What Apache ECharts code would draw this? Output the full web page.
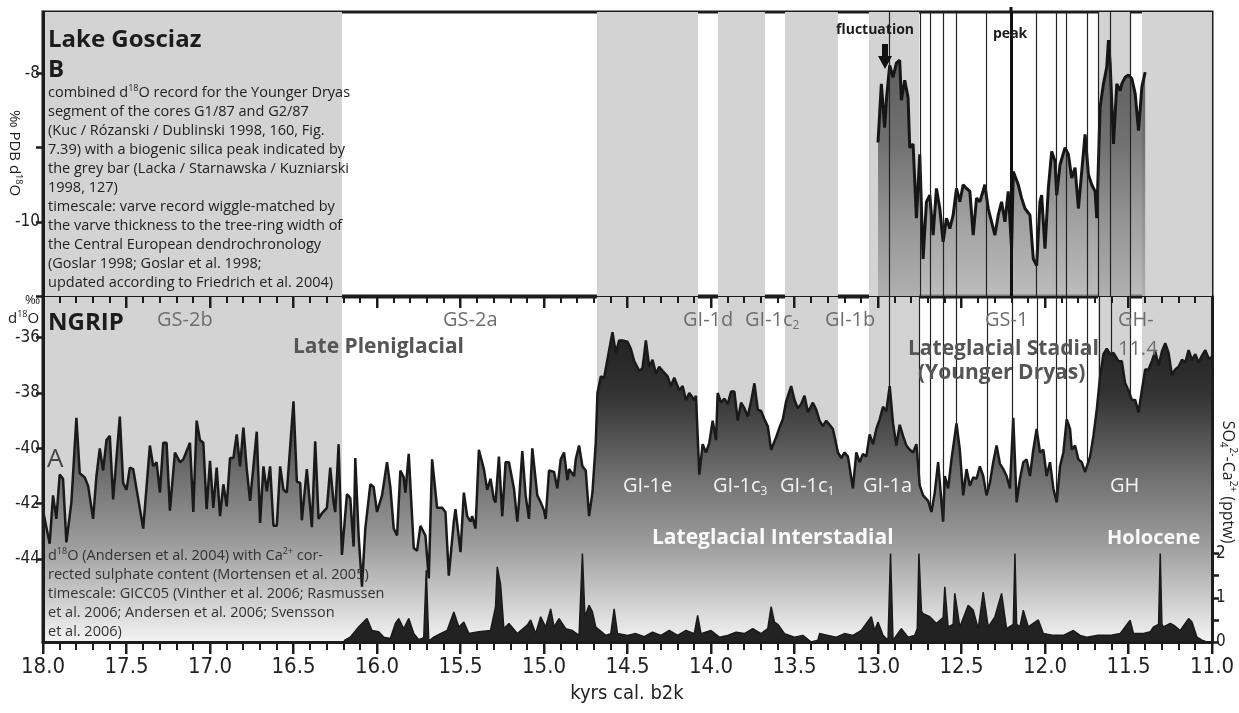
<!DOCTYPE html>
<html lang="en" style="height: 100%">
<head>
  <meta charset="utf-8">
</head>
<body style="height: 100%; margin: 0; background: #fff">
  <div id="container" style="width: 1239px; height: 713px"></div>
  <script type="text/javascript" src="https://cdn.jsdelivr.net/npm/echarts@6/dist/echarts.min.js"></script>
  <script type="text/javascript">
    // NGRIP d18O (age in kyrs b2k, permil)
    var ngripAge = [18.00,17.96,17.94,17.92,17.90,17.88,17.86,17.83,17.80,17.78,17.75,17.73,17.70,17.68,17.66,17.64,17.62,17.60,17.58,17.54,
      17.52,17.50,17.48,17.46,17.40,17.36,17.34,17.32,17.30,17.28,17.26,17.24,17.21,17.18,17.16,17.12,17.10,17.08,17.06,17.04,
      17.02,17.00,16.98,16.96,16.94,16.92,16.90,16.88,16.86,16.84,16.82,16.80,16.78,16.76,16.72,16.70,16.68,16.66,16.64,16.62,
      16.60,16.58,16.56,16.54,16.50,16.48,16.46,16.45,16.42,16.39,16.37,16.35,16.33,16.30,16.28,16.26,16.25,16.23,16.21,16.18,
      16.16,16.14,16.13,16.11,16.09,16.07,16.04,16.02,16.00,15.97,15.94,15.92,15.90,15.88,15.86,15.84,15.83,15.81,15.78,15.76,
      15.74,15.71,15.69,15.67,15.64,15.61,15.59,15.57,15.54,15.53,15.50,15.48,15.46,15.44,15.43,15.41,15.39,15.36,15.34,15.32,
      15.30,15.29,15.27,15.25,15.23,15.21,15.18,15.16,15.15,15.13,15.11,15.09,15.07,15.04,15.02,15.00,14.99,14.97,14.94,14.92,
      14.90,14.88,14.86,14.85,14.82,14.81,14.79,14.77,14.75,14.73,14.71,14.69,14.68,14.66,14.64,14.61,14.59,14.57,14.55,14.53,
      14.50,14.48,14.46,14.43,14.41,14.39,14.37,14.35,14.33,14.31,14.29,14.26,14.24,14.22,14.19,14.17,14.15,14.13,14.10,14.09,
      14.07,14.05,14.03,14.01,13.99,13.97,13.96,13.94,13.92,13.90,13.88,13.86,13.84,13.82,13.80,13.78,13.76,13.74,13.72,13.70,
      13.68,13.66,13.64,13.61,13.59,13.57,13.55,13.52,13.50,13.48,13.46,13.44,13.42,13.39,13.37,13.35,13.33,13.31,13.29,13.27,
      13.24,13.22,13.20,13.18,13.15,13.13,13.11,13.09,13.07,13.05,13.03,13.01,12.99,12.97,12.95,12.93,12.91,12.89,12.87,12.85,
      12.83,12.81,12.79,12.77,12.75,12.73,12.70,12.68,12.66,12.64,12.61,12.60,12.58,12.56,12.53,12.51,12.49,12.47,12.45,12.43,
      12.41,12.39,12.37,12.35,12.33,12.31,12.29,12.27,12.25,12.23,12.21,12.19,12.17,12.15,12.13,12.11,12.09,12.07,12.05,12.03,
      12.01,11.99,11.97,11.95,11.93,11.91,11.89,11.87,11.85,11.84,11.82,11.80,11.78,11.76,11.73,11.71,11.69,11.67,11.65,11.63,
      11.61,11.59,11.56,11.54,11.52,11.50,11.48,11.46,11.44,11.42,11.40,11.38,11.36,11.34,11.32,11.30,11.28,11.26,11.24,11.22,
      11.20,11.18,11.16,11.14,11.12,11.10,11.08,11.06,11.04,11.02,11.00];
    var ngripD18O = [-42.25,-43.45,-41.7,-42.55,-40.95,-41.1,-43.4,-41.95,-38.9,-40.9,-41.05,-41.35,-42.55,-41.0,-40.0,-40.8,-39.7,-39.55,-41.85,-38.85,
      -41.25,-41.5,-40.7,-40.75,-42.9,-39.9,-40.65,-40.5,-41.6,-39.8,-39.8,-42.25,-40.15,-40.5,-40.4,-39.8,-42.3,-39.0,-39.7,-39.8,
      -42.2,-40.45,-42.15,-40.7,-42.45,-41.3,-42.1,-40.35,-40.35,-39.5,-40.65,-39.25,-40.75,-41.9,-39.4,-42.7,-40.65,-41.55,-40.65,-42.8,
      -42.8,-40.65,-41.5,-41.6,-38.3,-41.2,-41.25,-42.6,-40.75,-42.85,-39.75,-42.55,-42.35,-42.15,-40.7,-41.95,-42.3,-39.85,-43.85,-41.65,
      -41.8,-43.55,-40.35,-43.15,-45.0,-42.9,-41.3,-41.4,-42.3,-41.7,-40.5,-41.4,-42.9,-43.15,-40.8,-41.05,-41.6,-40.2,-43.6,-43.7,
      -42.8,-43.15,-44.7,-40.4,-42.15,-42.15,-42.3,-44.6,-42.65,-42.2,-43.75,-41.6,-42.45,-42.65,-42.45,-42.9,-40.05,-40.75,-41.5,-41.1,
      -41.85,-41.95,-40.3,-42.45,-40.5,-40.5,-41.45,-42.65,-41.95,-40.1,-41.7,-42.55,-40.0,-41.7,-41.95,-42.25,-42.55,-40.8,-40.85,-41.45,
      -40.4,-40.15,-41.15,-40.75,-41.0,-40.4,-39.9,-40.65,-40.8,-42.45,-41.6,-39.8,-38.0,-37.4,-37.45,-36.45,-35.8,-36.55,-36.1,-36.1,
      -36.15,-36.4,-36.85,-37.2,-37.1,-36.1,-37.05,-36.8,-37.3,-37.05,-37.2,-37.4,-37.75,-37.45,-37.9,-37.75,-38.25,-38.0,-38.25,-38.1,
      -40.95,-39.85,-40.15,-39.8,-39.0,-39.7,-38.0,-38.35,-38.2,-38.4,-37.95,-37.95,-39.0,-38.35,-38.55,-38.85,-38.3,-37.65,-38.6,-38.65,
      -38.95,-39.2,-40.05,-39.6,-39.25,-38.95,-38.3,-37.75,-38.25,-38.55,-38.4,-38.1,-38.7,-38.35,-38.6,-39.0,-39.2,-39.0,-39.15,-39.3,
      -40.15,-40.35,-40.15,-40.3,-41.45,-40.15,-40.5,-40.2,-40.3,-39.5,-39.85,-39.3,-38.95,-38.5,-38.65,-37.75,-39.1,-39.9,-39.15,-39.55,
      -39.9,-40.05,-40.15,-39.85,-41.35,-41.7,-41.9,-42.3,-41.6,-40.5,-42.65,-41.0,-41.45,-40.4,-39.1,-40.05,-41.7,-40.75,-41.35,-41.05,
      -41.1,-40.65,-41.0,-41.7,-41.25,-40.5,-39.9,-40.55,-40.75,-41.0,-41.45,-38.9,-41.95,-41.1,-40.5,-40.4,-41.0,-40.05,-39.3,-40.15,
      -40.05,-41.0,-40.5,-41.45,-41.95,-40.65,-40.15,-38.95,-39.3,-40.05,-39.9,-40.4,-40.5,-40.85,-40.3,-39.55,-38.6,-37.4,-36.6,-36.4,
      -36.6,-36.55,-36.85,-36.85,-37.65,-37.9,-38.25,-38.25,-38.7,-37.9,-37.15,-37.15,-36.85,-36.5,-37.0,-36.5,-36.2,-36.55,-37.35,-37.15,
      -37.05,-36.8,-36.9,-36.45,-36.8,-36.6,-36.9,-36.65,-36.45,-36.75,-36.7];

    // NGRIP Ca-corrected sulphate (pptw)
    var sulphateAge = [16.20,16.19,16.16,16.11,16.06,16.03,15.99,15.96,15.92,15.89,15.87,15.84,15.81,15.78,15.75,15.72,15.705,15.69,15.66,15.62,
      15.58,15.54,15.51,15.48,15.45,15.39,15.32,15.29,15.28,15.26,15.24,15.21,15.16,15.10,15.08,15.05,15.02,14.99,14.96,14.94,
      14.91,14.87,14.83,14.79,14.77,14.755,14.73,14.71,14.69,14.63,14.60,14.58,14.56,14.50,14.45,14.40,14.35,14.30,14.25,14.20,
      14.15,14.10,14.08,14.06,14.00,13.95,13.90,13.85,13.80,13.75,13.70,13.66,13.64,13.62,13.60,13.56,13.50,13.45,13.40,13.36,
      13.35,13.30,13.25,13.20,13.15,13.10,13.04,13.02,13.00,12.97,12.94,12.925,12.91,12.86,12.82,12.78,12.765,12.755,12.74,12.73,
      12.69,12.65,12.61,12.60,12.58,12.55,12.54,12.51,12.46,12.43,12.40,12.37,12.34,12.30,12.26,12.23,12.19,12.18,12.17,12.15,
      12.13,12.10,12.04,12.01,11.95,11.89,11.83,11.79,11.75,11.69,11.61,11.55,11.49,11.47,11.41,11.37,11.35,11.32,11.31,11.30,
      11.29,11.25,11.23,11.19,11.14,11.12,11.09,11.06,11.03];
    var sulphateVal = [0.0,0.05,0.11,0.34,0.53,0.26,0.23,0.11,0.08,0.42,0.53,0.30,0.53,0.19,0.05,0.10,1.62,0.02,0.11,0.19,
      0.26,0.68,0.34,0.45,0.19,0.23,0.26,0.80,1.70,1.30,0.30,0.42,0.19,0.38,0.50,0.19,0.57,0.34,0.75,0.34,
      0.53,0.30,0.26,0.15,2.00,0.57,0.83,0.68,0.34,0.15,0.19,0.75,0.19,0.15,0.19,0.12,0.22,0.15,0.26,0.15,
      0.26,0.19,0.60,0.19,0.26,0.11,0.15,0.22,0.19,0.30,0.19,0.30,0.80,0.45,0.40,0.19,0.11,0.15,0.00,0.04,
      0.19,0.15,0.11,0.19,0.15,0.26,0.57,0.26,0.45,0.15,0.04,2.00,0.04,0.30,0.11,0.15,0.30,2.00,0.70,0.64,
      0.57,0.42,0.55,1.25,0.34,0.40,1.10,0.34,0.83,0.72,0.30,1.13,0.34,0.57,1.10,0.30,0.40,2.00,0.40,0.34,
      0.72,0.34,0.50,0.19,0.15,0.15,0.26,0.15,0.11,0.15,0.15,0.19,0.49,0.19,0.19,0.23,0.34,0.40,2.00,0.40,
      0.34,0.42,0.38,0.26,0.53,0.45,0.11,0.04,0.00];

    // Lake Gosciaz combined d18O (permil PDB)
    var gosciazAge = [13.00,12.98,12.96,12.95,12.93,12.91,12.89,12.87,12.86,12.84,12.82,12.81,12.79,12.77,12.75,12.73,12.71,12.69,12.67,12.65,
      12.63,12.61,12.59,12.57,12.55,12.53,12.51,12.49,12.47,12.45,12.43,12.41,12.39,12.36,12.34,12.32,12.30,12.28,12.26,12.24,
      12.22,12.20,12.19,12.16,12.14,12.12,12.09,12.07,12.05,12.03,12.02,12.00,11.98,11.96,11.94,11.93,11.91,11.88,11.86,11.84,
      11.82,11.80,11.78,11.76,11.74,11.72,11.70,11.69,11.67,11.65,11.63,11.62,11.61,11.59,11.57,11.55,11.54,11.52,11.50,11.48,
      11.46,11.44,11.42,11.40];
    var gosciazD18O = [-8.93,-8.14,-8.73,-8.36,-7.89,-8.05,-7.86,-7.82,-8.36,-8.09,-8.32,-9.0,-8.95,-9.95,-9.09,-10.5,-9.73,-9.64,-10.18,-9.55,
      -9.82,-10.27,-9.95,-10.09,-9.91,-9.55,-9.73,-9.5,-9.55,-9.59,-10.18,-9.68,-9.73,-9.5,-9.82,-10.0,-10.18,-9.91,-9.73,-10.0,
      -9.59,-10.36,-9.32,-9.5,-9.68,-9.82,-9.91,-10.5,-10.59,-9.73,-9.64,-10.36,-9.55,-9.05,-9.18,-9.64,-9.23,-9.0,-9.09,-9.41,
      -9.27,-9.82,-9.32,-8.82,-9.36,-9.5,-9.59,-9.95,-8.45,-8.14,-7.91,-7.55,-7.86,-8.95,-8.14,-8.23,-8.14,-8.05,-8.02,-8.07,
      -8.27,-8.77,-8.18,-7.98];

    // grey bars (stadials / biogenic silica) as [from, to] in kyrs b2k
    var greyBands = [[18.0, 16.21], [14.683, 14.078], [13.958, 13.677], [13.557, 13.24], [13.054, 12.754], [11.683, 11.491], [11.419, 11.0]];
    // varve-marker lines and the silica peak
    var markerLines = [12.934, 12.754, 12.689, 12.611, 12.533, 12.347, 12.048, 11.934, 11.874, 11.749, 11.677, 11.605, 11.491];
    var peakLine = 12.198;

    var topYLabels = [-10, -8];
    var ngripYLabels = [-44, -42, -40, -38, -36];
    var sulphateLabels = [0, 1, 2];

    var NGRIP_MIN = -47, NGRIP_MAX = -34.53;

    // age ticks: labelled every 0.5 kyr, small ticks every 0.1 kyr
    var majorTicks = [], minorTicks = [];
    for (var k = 110; k <= 180; k++) {
      if (k % 5 === 0) majorTicks.push(k / 10); else minorTicks.push(k / 10);
    }

    function pairs(xs, ys) {
      return xs.map(function (x, i) { return [x, ys[i]]; });
    }
    // value of the NGRIP curve at a given age, so the marker lines stop at it
    function ngripAt(age) {
      for (var i = 0; i < ngripAge.length - 1; i++) {
        var a0 = ngripAge[i], a1 = ngripAge[i + 1];
        if (age <= a0 && age >= a1) {
          var t = (a0 - age) / (a0 - a1);
          return ngripD18O[i] + t * (ngripD18O[i + 1] - ngripD18O[i]);
        }
      }
      return NGRIP_MIN;
    }

    var dom = document.getElementById('container');
    var myChart = echarts.init(dom, null, { renderer: 'canvas' });

    var INK = '#1c1c1c';
    var COND = '"Liberation Sans Narrow", "DejaVu Sans Condensed", "Open Sans", sans-serif';
    var TXT = '"Open Sans", "Noto Sans", sans-serif';

    var bandAreas = greyBands.map(function (b) {
      return [{ xAxis: b[0] }, { xAxis: b[1] }];
    });
    var topLinesMark = markerLines.map(function (v) {
      return { xAxis: v, lineStyle: { width: 1.2, color: '#222', type: 'solid' } };
    });
    topLinesMark.push({ xAxis: peakLine, lineStyle: { width: 3, color: '#111', type: 'solid' } });
    var bottomLinesMark = markerLines.concat([peakLine]).map(function (v) {
      return [
        { coord: [v, ngripAt(v)], lineStyle: { width: 1.2, color: '#222', type: 'solid' } },
        { coord: [v, NGRIP_MAX] }
      ];
    });

    function text(x, y, str, size, color, weight, rich) {
      return {
        type: 'text', x: x, y: y, z: 100, silent: true,
        style: {
          text: str, fill: color, fontSize: size, fontFamily: TXT,
          fontWeight: weight || 'normal', verticalAlign: 'middle', textAlign: 'left',
          rich: rich
        }
      };
    }

    function sub(size, color, weight) {
      var small = Math.round(size * 0.62);
      return {
        n: { fontSize: size, fill: color, fontFamily: TXT, fontWeight: weight || 'normal', lineHeight: size + 4 },
        b: { fontSize: small, fill: color, fontFamily: TXT, fontWeight: weight || 'normal', lineHeight: size, verticalAlign: 'bottom' },
        p: { fontSize: small, fill: color, fontFamily: TXT, fontWeight: weight || 'normal', lineHeight: size - 2, verticalAlign: 'top' }
      };
    }

    var topLines = [
      '{n|combined d}{p|18}{n|O record for the Younger Dryas}',
      '{n|segment of the cores G1/87 and G2/87}',
      '{n|(Kuc / Rózanski / Dublinski 1998, 160, Fig.}',
      '{n|7.39) with a biogenic silica peak indicated by}',
      '{n|the grey bar (Lacka / Starnawska / Kuzniarski}',
      '{n|1998, 127)}',
      '{n|timescale: varve record wiggle-matched by}',
      '{n|the varve thickness to the tree-ring width of}',
      '{n|the Central European dendrochronology}',
      '{n|(Goslar 1998; Goslar et al. 1998;}',
      '{n|updated according to Friedrich et al. 2004)}'
    ];
    var bottomLines = [
      '{n|d}{p|18}{n|O (Andersen et al. 2004) with Ca}{p|2+}{n| cor-}',
      '{n|rected sulphate content (Mortensen et al. 2005)}',
      '{n|timescale: GICC05 (Vinther et al. 2006; Rasmussen}',
      '{n|et al. 2006; Andersen et al. 2006; Svensson}',
      '{n|et al. 2006)}'
    ];

    var GRID_LEFT = 43, GRID_RIGHT = 27, LOW_TOP = 297, LOW_H = 345, CHART_W = 1239;

    var graphics = [];
    graphics.push(text(48, 40, 'Lake Gosciaz', 24, INK, 'bold'));
    graphics.push(text(48, 70, 'B', 24, INK, 'bold'));
    topLines.forEach(function (l, i) {
      graphics.push(text(48, 93 + i * 19, l, 14.5, '#222', 'normal', sub(14.5, '#222')));
    });
    graphics.push(text(836, 30, 'fluctuation', 14, INK, 'bold'));
    graphics.push(text(993, 34, 'peak', 14, INK, 'bold'));
    graphics.push({ type: 'rect', z: 100, silent: true, shape: { x: 882, y: 44, width: 6, height: 13 }, style: { fill: '#111' } });
    graphics.push({ type: 'polygon', z: 100, silent: true, shape: { points: [[878, 56], [892, 56], [885, 69]] }, style: { fill: '#111' } });
    graphics.push({ type: 'rect', z: 100, silent: true, shape: { x: 1009.5, y: 7, width: 3, height: 6 }, style: { fill: '#111' } });

    // axis names
    graphics.push({
      type: 'text', x: 14, y: 153, rotation: -Math.PI / 2, z: 100, silent: true,
      style: { text: '{n|‰ PDB d}{p|18}{n|O}', rich: sub(15, '#222'), textAlign: 'center', verticalAlign: 'middle' }
    });
    graphics.push(text(25, 300, '‰', 13, '#222'));
    graphics.push(text(8, 319, '{n|d}{p|18}{n|O}', 15, '#222', 'normal', sub(15, '#222')));
    graphics.push({
      type: 'text', x: 1228, y: 482, rotation: -Math.PI / 2, z: 100, silent: true,
      style: { text: '{n|SO}{b|4}{p|2-}{n|-Ca}{p|2+}{n| (pptw)}', rich: sub(16, '#222'), textAlign: 'center', verticalAlign: 'middle' }
    });
    graphics.push({
      type: 'text', x: 627, y: 694, z: 100, silent: true,
      style: { text: 'kyrs cal. b2k', fontSize: 20, fontFamily: COND, fill: '#222', textAlign: 'center', verticalAlign: 'middle' }
    });

    // NGRIP panel annotations
    var G = '#6e6e6e';
    var W = '#f4f4f4';
    graphics.push(text(48, 323, 'NGRIP', 24, INK, 'bold'));
    graphics.push(text(157, 320, 'GS-2b', 20, G));
    graphics.push(text(443, 320, 'GS-2a', 20, G));
    graphics.push(text(683, 320, 'GI-1d', 20, G));
    graphics.push(text(745, 320, '{n|GI-1c}{b|2}', 20, G, 'normal', sub(20, G)));
    graphics.push(text(825, 320, 'GI-1b', 20, G));
    graphics.push(text(985, 320, 'GS-1', 20, G));
    graphics.push(text(1118, 320, 'GH-', 20, G));
    graphics.push(text(1118, 349, '11.4', 20, G));
    graphics.push(text(293, 347, 'Late Pleniglacial', 21, '#555', 'bold'));
    graphics.push(text(908, 349, 'Lateglacial Stadial', 21, '#555', 'bold'));
    graphics.push(text(918, 373, '(Younger Dryas)', 21, '#555', 'bold'));
    graphics.push(text(47, 460, 'A', 26, '#444'));
    graphics.push(text(623, 486, 'GI-1e', 20, W));
    graphics.push(text(713, 486, '{n|GI-1c}{b|3}', 20, W, 'normal', sub(20, W)));
    graphics.push(text(780, 486, '{n|GI-1c}{b|1}', 20, W, 'normal', sub(20, W)));
    graphics.push(text(863, 486, 'GI-1a', 20, W));
    graphics.push(text(1110, 486, 'GH', 20, W));
    graphics.push(text(652, 538, 'Lateglacial Interstadial', 21, '#fafafa', 'bold'));
    graphics.push(text(1107, 538, 'Holocene', 20, '#fafafa', 'bold'));
    bottomLines.forEach(function (l, i) {
      graphics.push(text(48, 556 + i * 19, l, 14.5, '#333', 'normal', sub(14.5, '#333')));
    });

    // age ticks along the bottom (outward) and along the panel joint (inward)
    var plotW = CHART_W - GRID_LEFT - GRID_RIGHT;
    var yBottom = LOW_TOP + LOW_H;
    function addTicks(values, lenDown, lenTop, w) {
      values.forEach(function (v) {
        var x = Math.round(GRID_LEFT + (18 - v) / 7 * plotW - w / 2);
        graphics.push({ type: 'rect', z: 95, silent: true, shape: { x: x, y: yBottom, width: w, height: lenDown }, style: { fill: INK } });
        graphics.push({ type: 'rect', z: 95, silent: true, shape: { x: x, y: LOW_TOP, width: w, height: lenTop }, style: { fill: INK } });
      });
    }
    addTicks(majorTicks, 12, 11, 2.5);
    addTicks(minorTicks, 8, 6, 2);

    var option = {
      animation: false,
      backgroundColor: '#fff',
      grid: [
        { left: GRID_LEFT, right: GRID_RIGHT, top: 12, height: 284, show: true, borderColor: INK, borderWidth: 3, backgroundColor: 'transparent', z: 0 },
        { left: GRID_LEFT, right: GRID_RIGHT, top: LOW_TOP, height: LOW_H, show: true, borderColor: INK, borderWidth: 3, backgroundColor: 'transparent', z: 0 }
      ],
      xAxis: [
        { gridIndex: 0, type: 'value', min: 11, max: 18, inverse: true, show: false },
        {
          gridIndex: 1, type: 'value', min: 11, max: 18, inverse: true, position: 'bottom', z: 20,
          axisLine: { show: true, onZero: false, lineStyle: { color: INK, width: 3 } },
          axisTick: { show: false },
          axisLabel: {
            customValues: majorTicks, formatter: function (v) { return v.toFixed(1); },
            fontSize: 22, fontFamily: COND, color: '#222', margin: 14
          },
          splitLine: { show: false }
        }
      ],
      yAxis: [
        {
          gridIndex: 0, type: 'value', min: -11, max: -7.17, z: 20,
          axisLine: { show: true, onZero: false, lineStyle: { color: INK, width: 3 } },
          axisTick: { show: true, length: 7, customValues: [-11, -10, -9, -8], lineStyle: { color: INK, width: 2.5 } },
          axisLabel: { customValues: topYLabels, fontSize: 17, fontFamily: COND, color: '#222', margin: 3 },
          splitLine: { show: false }
        },
        {
          gridIndex: 1, type: 'value', min: NGRIP_MIN, max: NGRIP_MAX, z: 20,
          axisLine: { show: true, onZero: false, lineStyle: { color: INK, width: 3 } },
          axisTick: { show: true, length: 7, customValues: ngripYLabels, lineStyle: { color: INK, width: 2.5 } },
          axisLabel: { customValues: ngripYLabels, fontSize: 17, fontFamily: COND, color: '#222', margin: 3 },
          splitLine: { show: false }
        },
        {
          gridIndex: 1, type: 'value', min: 0, max: 7.8, position: 'right', z: 20,
          axisLine: { show: true, onZero: false, lineStyle: { color: INK, width: 3 } },
          axisTick: { show: true, length: 7, customValues: [0, 0.5, 1, 1.5, 2], lineStyle: { color: INK, width: 2.5 } },
          axisLabel: { customValues: sulphateLabels, fontSize: 17, fontFamily: COND, color: '#222', margin: 4 },
          splitLine: { show: false }
        }
      ],
      graphic: graphics,
      series: [
        {
          type: 'line', xAxisIndex: 0, yAxisIndex: 0, data: [], z: 1, silent: true,
          markArea: { silent: true, z: 1, itemStyle: { color: '#d3d3d3' }, data: bandAreas }
        },
        {
          name: 'Lake Gosciaz', type: 'line', xAxisIndex: 0, yAxisIndex: 0, z: 3,
          data: pairs(gosciazAge, gosciazD18O), symbol: 'none',
          lineStyle: { color: '#161616', width: 3 },
          areaStyle: {
            origin: 'start',
            color: new echarts.graphic.LinearGradient(0, 0, 0, 1, [
              { offset: 0, color: '#252525' },
              { offset: 0.4, color: '#474747' },
              { offset: 0.7, color: '#787878' },
              { offset: 1, color: '#a0a0a0' }
            ])
          }
        },
        {
          type: 'line', xAxisIndex: 0, yAxisIndex: 0, data: [], z: 5, silent: true,
          markLine: { silent: true, symbol: 'none', label: { show: false }, data: topLinesMark }
        },
        {
          type: 'line', xAxisIndex: 1, yAxisIndex: 1, data: [], z: 1, silent: true,
          markArea: { silent: true, z: 1, itemStyle: { color: '#d3d3d3' }, data: bandAreas }
        },
        {
          type: 'line', xAxisIndex: 1, yAxisIndex: 1, data: [], z: 2, silent: true,
          markLine: { silent: true, symbol: 'none', label: { show: false }, data: bottomLinesMark }
        },
        {
          name: 'NGRIP d18O', type: 'line', xAxisIndex: 1, yAxisIndex: 1, z: 3,
          data: pairs(ngripAge, ngripD18O), symbol: 'none',
          lineStyle: { color: '#1a1a1a', width: 2.5 },
          areaStyle: {
            origin: 'start', opacity: 1,
            color: new echarts.graphic.LinearGradient(0, 0, 0, 1, [
              { offset: 0, color: '#202020' },
              { offset: 0.2, color: '#333333' },
              { offset: 0.5, color: '#777777' },
              { offset: 0.68, color: '#9b9b9b' },
              { offset: 0.85, color: '#c9c9c9' },
              { offset: 1, color: '#f4f4f4' }
            ])
          }
        },
        {
          name: 'sulphate', type: 'line', xAxisIndex: 1, yAxisIndex: 2, z: 4,
          data: pairs(sulphateAge, sulphateVal), symbol: 'none',
          lineStyle: { color: '#1a1a1a', width: 1.5 },
          areaStyle: { origin: 'start', color: '#222', opacity: 1 }
        }
      ]
    };

    myChart.setOption(option);
  </script>
</body>
</html>
